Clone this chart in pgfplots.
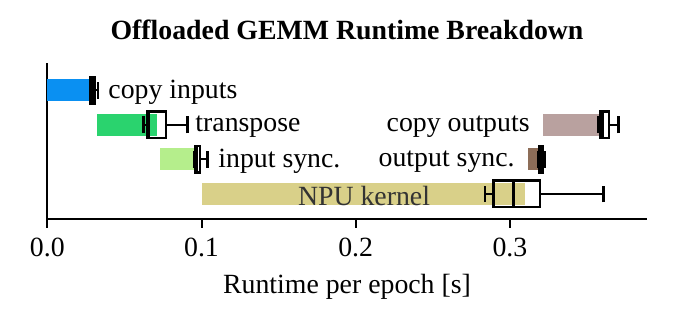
\documentclass[border=0pt]{standalone}
\usepackage{fontspec}
\setmainfont{Liberation Serif}
\usepackage{pgfplots}
\pgfplotsset{compat=1.18}
\usepgfplotslibrary{statistics}
\definecolor{cblue}{HTML}{0A90F2}
\definecolor{ctrans}{HTML}{2AD36E}
\definecolor{cinsync}{HTML}{B5EE8C}
\definecolor{cnpu}{HTML}{D9D089}
\definecolor{ccopyout}{HTML}{B9A19F}
\definecolor{coutsync}{HTML}{8D6D58}
\begin{document}%
\fontsize{13.9}{16}\selectfont%
\begin{tikzpicture}
\begin{axis}[
  scale only axis,
  width=299.7pt, height=77.85pt,
  at={(0,0)}, anchor=south west,
  xmin=0, xmax=0.3887, ymin=-0.73, ymax=3.78,
  axis x line*=bottom, axis y line*=left,
  axis line style={-, line width=1pt, black},
  xtick={0,0.1,0.2,0.3}, ytick=\empty,
  tick align=outside, major tick length=4.5pt,
  x tick style={line width=1pt, black},
  xticklabel style={/pgf/number format/.cd, fixed, fixed zerofill, precision=1},
  /pgf/number format/assume math mode=true,
  scaled x ticks=false,
  clip=false,
  boxplot/draw direction=x,
  title={\bfseries Offloaded GEMM Runtime Breakdown},
  title style={at={(axis description cs:0.5,1)}, anchor=center, yshift=10.5pt},
  xlabel={Runtime per epoch [s]},
  xlabel style={at={(axis description cs:0.5,0)}, anchor=center, yshift=-34pt},
]
% --- box fills (white), drawn below the bars
\addplot[fill=white, draw=none, boxplot prepared={lower whisker=0.0276, lower quartile=0.0282, median=0.0290, upper quartile=0.0305, upper whisker=0.0330, draw position=3, box extend=0.77, whisker extend=0.48}] coordinates {};
\addplot[fill=white, draw=none, boxplot prepared={lower whisker=0.0625, lower quartile=0.0648, median=0.0660, upper quartile=0.0770, upper whisker=0.0910, draw position=2, box extend=0.77, whisker extend=0.48}] coordinates {};
\addplot[fill=white, draw=none, boxplot prepared={lower whisker=0.0950, lower quartile=0.0962, median=0.0970, upper quartile=0.0990, upper whisker=0.1040, draw position=1, box extend=0.77, whisker extend=0.48}] coordinates {};
\addplot[fill=white, draw=none, boxplot prepared={lower whisker=0.3575, lower quartile=0.3590, median=0.3600, upper quartile=0.3642, upper whisker=0.3703, draw position=2, box extend=0.77, whisker extend=0.48}] coordinates {};
\addplot[fill=white, draw=none, boxplot prepared={lower whisker=0.3185, lower quartile=0.3190, median=0.3198, upper quartile=0.3210, upper whisker=0.3225, draw position=1, box extend=0.77, whisker extend=0.48}] coordinates {};
\addplot[fill=white, draw=none, boxplot prepared={lower whisker=0.2838, lower quartile=0.2892, median=0.3022, upper quartile=0.3195, upper whisker=0.3606, draw position=0, box extend=0.77, whisker extend=0.48}] coordinates {};
% --- bars (start, end, row)
\addplot[fill=cblue, draw=none] coordinates {(0,2.68) (0.0288,2.68) (0.0288,3.32) (0,3.32)} -- cycle;
\addplot[fill=ctrans, draw=none] coordinates {(0.0324,1.68) (0.0709,1.68) (0.0709,2.32) (0.0324,2.32)} -- cycle;
\addplot[fill=cinsync, draw=none] coordinates {(0.0731,0.68) (0.0969,0.68) (0.0969,1.32) (0.0731,1.32)} -- cycle;
\addplot[fill=cnpu, draw=none] coordinates {(0.1000,-0.32) (0.3098,-0.32) (0.3098,0.32) (0.1000,0.32)} -- cycle;
\addplot[fill=ccopyout, draw=none] coordinates {(0.3217,1.68) (0.3590,1.68) (0.3590,2.32) (0.3217,2.32)} -- cycle;
\addplot[fill=coutsync, draw=none] coordinates {(0.3119,0.68) (0.3190,0.68) (0.3190,1.32) (0.3119,1.32)} -- cycle;
% --- box outlines and whiskers
\pgfplotsset{boxplot/every box/.style={line width=1.4pt}, boxplot/every whisker/.style={line width=1.2pt}, boxplot/every median/.style={line width=1.4pt}}
\addplot[draw=black, fill=none, boxplot prepared={lower whisker=0.0276, lower quartile=0.0282, median=0.0290, upper quartile=0.0305, upper whisker=0.0330, draw position=3, box extend=0.77, whisker extend=0.48}] coordinates {};
\addplot[draw=black, fill=none, boxplot prepared={lower whisker=0.0625, lower quartile=0.0648, median=0.0660, upper quartile=0.0770, upper whisker=0.0910, draw position=2, box extend=0.77, whisker extend=0.48}] coordinates {};
\addplot[draw=black, fill=none, boxplot prepared={lower whisker=0.0950, lower quartile=0.0962, median=0.0970, upper quartile=0.0990, upper whisker=0.1040, draw position=1, box extend=0.77, whisker extend=0.48}] coordinates {};
\addplot[draw=black, fill=none, boxplot prepared={lower whisker=0.3575, lower quartile=0.3590, median=0.3600, upper quartile=0.3642, upper whisker=0.3703, draw position=2, box extend=0.77, whisker extend=0.48}] coordinates {};
\addplot[draw=black, fill=none, boxplot prepared={lower whisker=0.3185, lower quartile=0.3190, median=0.3198, upper quartile=0.3210, upper whisker=0.3225, draw position=1, box extend=0.77, whisker extend=0.48}] coordinates {};
\addplot[draw=black, fill=none, boxplot prepared={lower whisker=0.2838, lower quartile=0.2892, median=0.3022, upper quartile=0.3195, upper whisker=0.3606, draw position=0, box extend=0.77, whisker extend=0.48}] coordinates {};
% --- labels
\node[anchor=west, inner sep=0pt, yshift=-1pt] at (axis cs:0.0394,3) {copy inputs};
\node[anchor=west, inner sep=0pt, yshift=-1pt] at (axis cs:0.0958,2) {transpose};
\node[anchor=west, inner sep=0pt, yshift=-1pt] at (axis cs:0.1107,1) {input sync.};
\node[anchor=east, inner sep=0pt, yshift=-1pt] at (axis cs:0.3130,2) {copy outputs};
\node[anchor=east, inner sep=0pt, yshift=-1pt] at (axis cs:0.3033,1) {output sync.};
\node[anchor=center, inner sep=0pt, yshift=-1pt, text=black!80] at (axis cs:0.2054,0) {NPU kernel};
\end{axis}
\pgfresetboundingbox
\path[use as bounding box] (-23.65pt,-56.5pt) rectangle (314.35pt,109.5pt);
\end{tikzpicture}%
\end{document}
